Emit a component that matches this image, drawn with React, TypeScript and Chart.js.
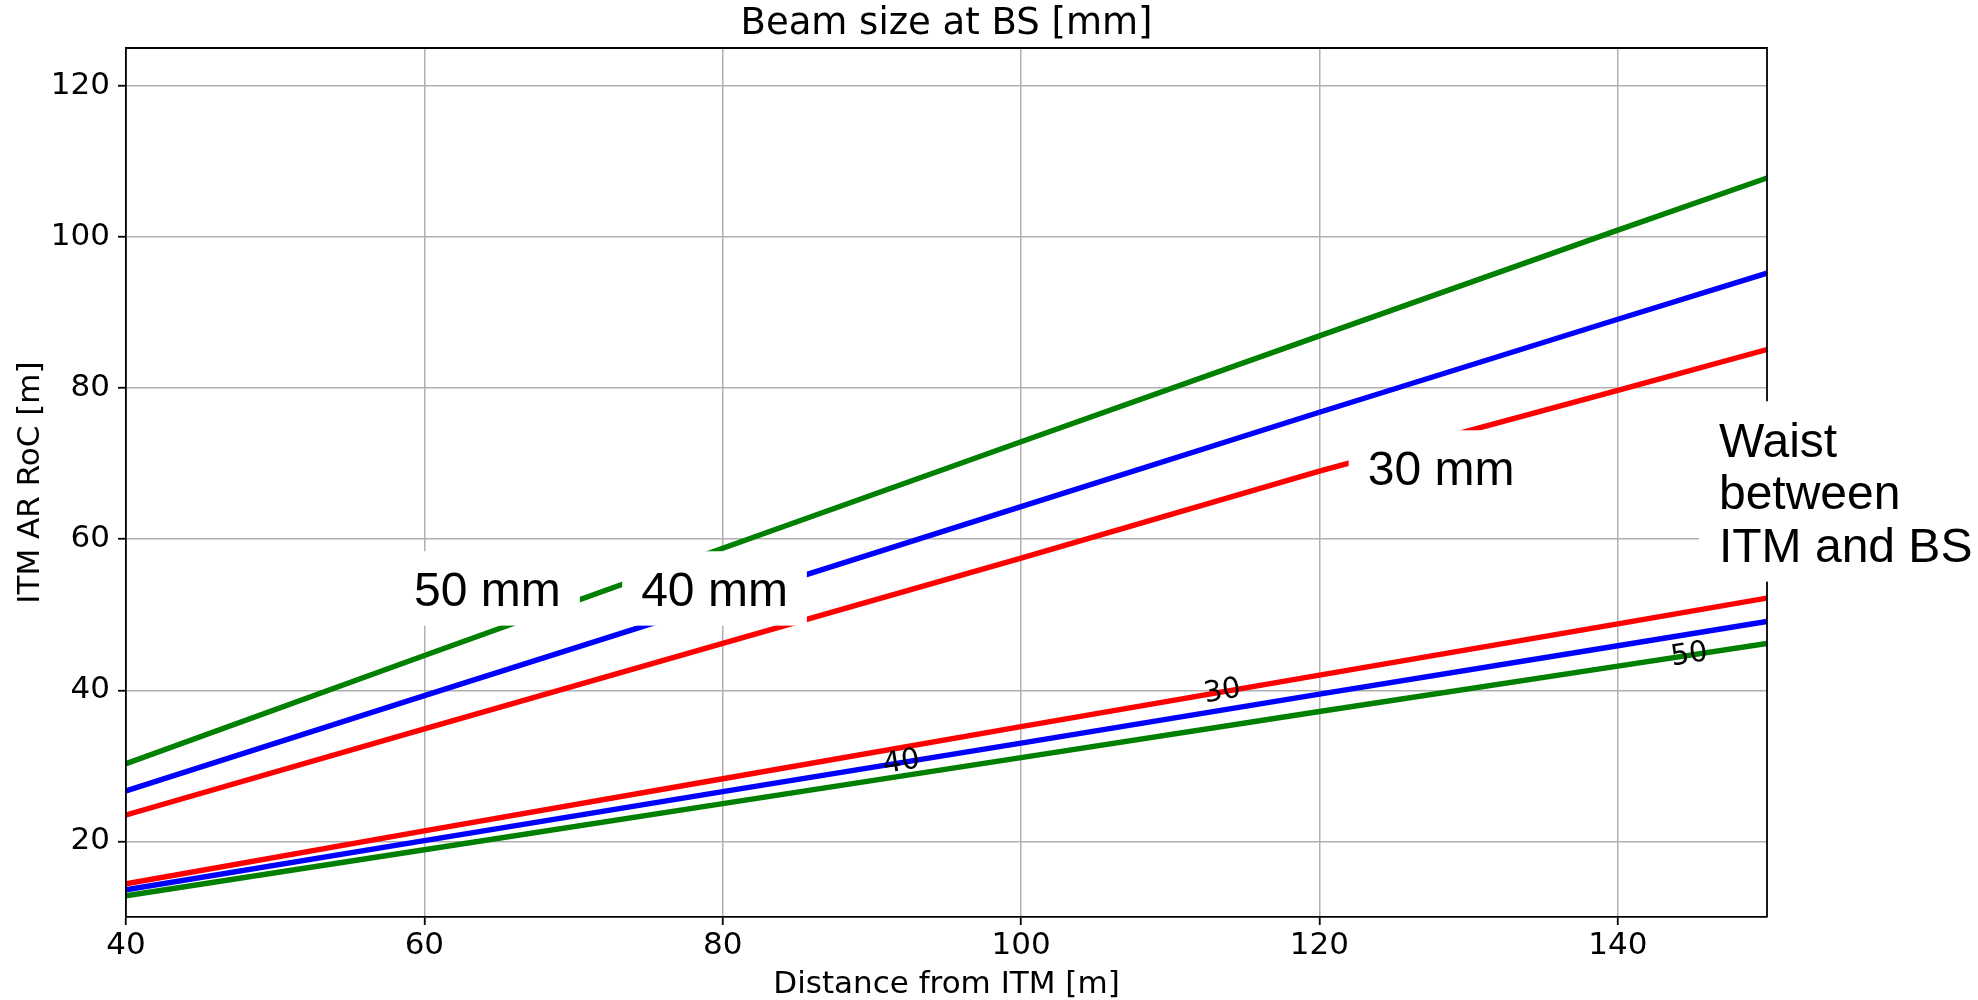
import React, { useEffect, useRef } from "react";
import { Chart, registerables } from "chart.js";

Chart.register(...registerables);

const TITLE = "Beam size at BS [mm]";
const X_LABEL = "Distance from ITM [m]";
const Y_LABEL = "ITM AR RoC [m]";

// Distance from ITM [m]
const distance = [40, 60, 80, 100, 120, 140, 150];
// Upper branch: ITM AR RoC [m] for each beam size at BS
const upper50mm = [30.3, 44.6, 58.8, 72.9, 86.9, 100.9, 107.8];
const upper40mm = [26.7, 39.3, 51.8, 64.3, 76.8, 89.1, 95.2];
const upper30mm = [23.5, 34.9, 46.2, 57.5, 69.0, 79.7, 85.1];
// Lower branch
const lower30mm = [14.4, 21.4, 28.3, 35.2, 42.0, 48.8, 52.2];
const lower40mm = [13.6, 20.1, 26.6, 33.0, 39.5, 45.9, 49.1];
const lower50mm = [12.8, 18.9, 25.0, 31.1, 37.2, 43.2, 46.2];

const xTicks = [40, 60, 80, 100, 120, 140];
const yTicks = [20, 40, 60, 80, 100, 120];
const xMin = 40;
const xMax = 150;
const yMin = 10;
const yMax = 125;

// boxed annotations (centre, data coordinates)
const boxLabels = [
  { text: "50 mm", x: 64.23, y: 53.48 },
  { text: "40 mm", x: 79.45, y: 53.48 },
  { text: "30 mm", x: 128.15, y: 69.49 },
];
const waistLines = ["Waist", "between", "ITM and BS"];
const waistAnchor = { x: 146.78, y: 66.25 };

// inline contour labels
const inlineLabels = [
  { text: "40", series: lower40mm, x: 91.98 },
  { text: "30", series: lower30mm, x: 113.5 },
  { text: "50", series: lower50mm, x: 144.8 },
];

function interp(series: number[], x: number) {
  for (let i = 0; i < distance.length - 1; i++) {
    if (x >= distance[i] && x <= distance[i + 1]) {
      const t = (x - distance[i]) / (distance[i + 1] - distance[i]);
      return series[i] + t * (series[i + 1] - series[i]);
    }
  }
  return series[series.length - 1];
}

const BOX_FONT = 48;
const CAP = 0.716 * BOX_FONT;
const PAD_X = 19;
const PAD_Y = 20;

const overlay = {
  id: "overlay",
  afterDraw(chart: any) {
    const { ctx, chartArea: ca, scales } = chart;
    const xs = scales.x;
    const ys = scales.y;
    ctx.save();
    // top / right spines
    ctx.strokeStyle = "#000";
    ctx.lineWidth = 1.8;
    ctx.beginPath();
    ctx.moveTo(ca.left, ca.top);
    ctx.lineTo(ca.right, ca.top);
    ctx.lineTo(ca.right, ca.bottom);
    ctx.stroke();

    const cx = (ca.left + ca.right) / 2;
    const cy = (ca.top + ca.bottom) / 2;
    ctx.fillStyle = "#000";
    ctx.textAlign = "center";
    ctx.textBaseline = "alphabetic";
    ctx.font = '37px "DejaVu Sans"';
    ctx.fillText(TITLE, cx, 34);
    ctx.font = '31px "DejaVu Sans"';
    ctx.fillText(X_LABEL, cx, 993);
    ctx.save();
    ctx.translate(39, cy);
    ctx.rotate(-Math.PI / 2);
    ctx.fillText(Y_LABEL, 0, 0);
    ctx.restore();

    // inline labels
    ctx.font = '29px "DejaVu Sans"';
    ctx.textBaseline = "middle";
    ctx.textAlign = "center";
    for (const l of inlineLabels) {
      const px = xs.getPixelForValue(l.x);
      const py = ys.getPixelForValue(interp(l.series, l.x));
      const p1x = xs.getPixelForValue(l.x - 5);
      const p1y = ys.getPixelForValue(interp(l.series, l.x - 5));
      const p2x = xs.getPixelForValue(Math.min(l.x + 5, xMax));
      const p2y = ys.getPixelForValue(interp(l.series, Math.min(l.x + 5, xMax)));
      const ang = Math.atan2(p2y - p1y, p2x - p1x);
      ctx.save();
      ctx.translate(px, py);
      ctx.rotate(ang);
      ctx.fillText(l.text, 0, 0);
      ctx.restore();
    }

    // boxed labels
    ctx.font = `${BOX_FONT}px "Liberation Sans"`;
    ctx.textBaseline = "alphabetic";
    for (const b of boxLabels) {
      const px = xs.getPixelForValue(b.x);
      const py = ys.getPixelForValue(b.y);
      const w = ctx.measureText(b.text).width;
      ctx.fillStyle = "#fff";
      ctx.fillRect(px - w / 2 - PAD_X, py - CAP / 2 - PAD_Y, w + 2 * PAD_X, CAP + 2 * PAD_Y);
      ctx.fillStyle = "#000";
      ctx.textAlign = "center";
      ctx.fillText(b.text, px, py + CAP / 2);
    }

    // waist box
    {
      const lh = 52.5;
      const left = xs.getPixelForValue(waistAnchor.x);
      const mid = ys.getPixelForValue(waistAnchor.y);
      const blockH = CAP + lh * (waistLines.length - 1);
      const top = mid - blockH / 2;
      let maxW = 0;
      for (const t of waistLines) maxW = Math.max(maxW, ctx.measureText(t).width);
      ctx.fillStyle = "#fff";
      ctx.fillRect(left - PAD_X - 1, top - PAD_Y - 1, maxW + 2 * PAD_X + 2, blockH + 2 * PAD_Y + 1);
      ctx.fillStyle = "#000";
      ctx.textAlign = "left";
      waistLines.forEach((t, i) => {
        ctx.fillText(t, left, top + CAP + i * lh);
      });
    }
    ctx.restore();
  },
};

export default function App() {
  const ref = useRef<HTMLCanvasElement>(null);
  useEffect(() => {
    const canvas = ref.current!;
    const mk = (label: string, vals: number[], color: string) => ({
      label,
      data: distance.map((x, i) => ({ x, y: vals[i] })),
      borderColor: color,
      backgroundColor: color,
      borderWidth: 5.4,
      pointRadius: 0,
      pointHoverRadius: 0,
      tension: 0,
      fill: false,
    });
    const tickFont = { family: "DejaVu Sans", size: 31 };
    const chart = new Chart(canvas, {
      type: "line",
      data: {
        datasets: [
          mk("upper 50 mm", upper50mm, "#008000"),
          mk("upper 40 mm", upper40mm, "#0000ff"),
          mk("upper 30 mm", upper30mm, "#ff0000"),
          mk("lower 30 mm", lower30mm, "#ff0000"),
          mk("lower 40 mm", lower40mm, "#0000ff"),
          mk("lower 50 mm", lower50mm, "#008000"),
        ],
      },
      options: {
        animation: false,
        responsive: false,
        devicePixelRatio: 1,
        events: [],
        layout: { padding: { left: 0, right: 211, top: 48, bottom: 0 } },
        plugins: {
          legend: { display: false },
          tooltip: { enabled: false },
          title: { display: false },
        },
        scales: {
          x: {
            type: "linear",
            min: xMin,
            max: xMax,
            afterFit: (s: any) => {
              s.height = 83;
            },
            afterBuildTicks: (s: any) => {
              s.ticks = xTicks.map((v) => ({ value: v }));
            },
            grid: {
              color: "#b0b0b0",
              lineWidth: 1.5,
              tickColor: "#000",
              tickWidth: 1.8,
              tickLength: 8,
              drawTicks: true,
            },
            border: { color: "#000", width: 1.8, z: 1 },
            ticks: {
              color: "#000",
              font: tickFont,
              padding: 2,
              maxRotation: 0,
              autoSkip: false,
              callback: (v: any) => String(v),
            },
          },
          y: {
            type: "linear",
            min: yMin,
            max: yMax,
            afterFit: (s: any) => {
              s.width = 126;
            },
            afterBuildTicks: (s: any) => {
              s.ticks = yTicks.map((v) => ({ value: v }));
            },
            grid: {
              color: "#b0b0b0",
              lineWidth: 1.5,
              tickColor: "#000",
              tickWidth: 1.8,
              tickLength: 8,
              drawTicks: true,
            },
            border: { color: "#000", width: 1.8, z: 1 },
            ticks: {
              color: "#000",
              font: tickFont,
              padding: 8,
              autoSkip: false,
              callback: (v: any) => String(v),
            },
          },
        },
      },
      plugins: [overlay],
    } as any);
    return () => chart.destroy();
  }, []);
  return (
    <div style={{ position: "absolute", left: 0, top: 0, width: 1978, height: 1000, background: "#fff" }}>
      <canvas ref={ref} width={1978} height={1000} style={{ display: "block", width: 1978, height: 1000 }} />
    </div>
  );
}
